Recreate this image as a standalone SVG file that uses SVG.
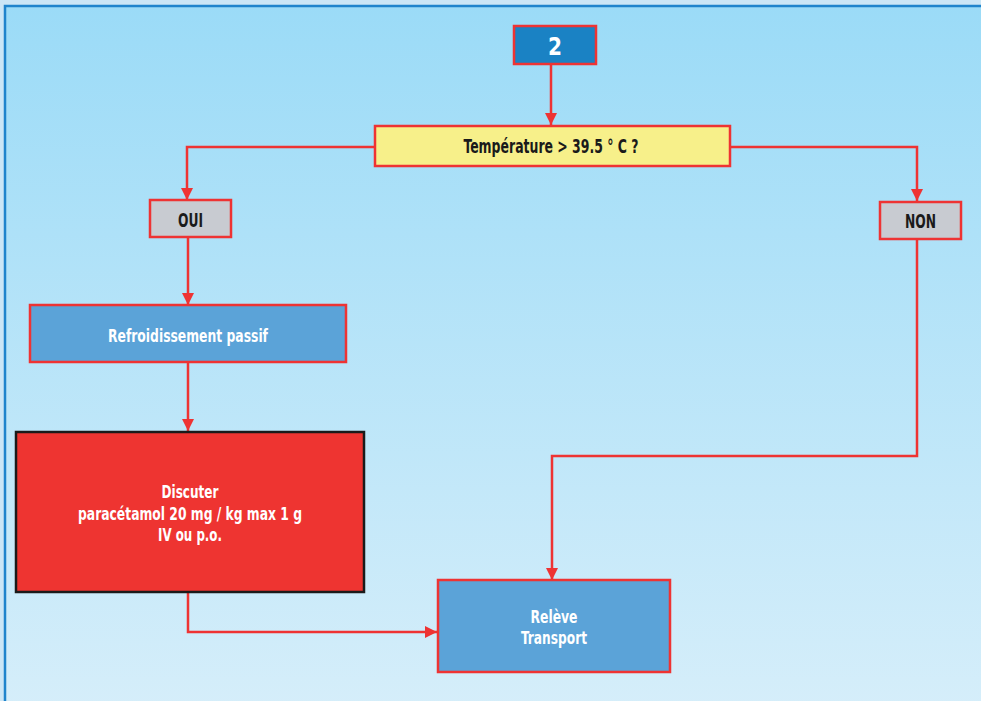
<svg xmlns="http://www.w3.org/2000/svg" width="981" height="701" viewBox="0 0 981 701">
<defs>
<linearGradient id="bg" x1="0" y1="0" x2="0" y2="1">
<stop offset="0" stop-color="#9bdbf7"/>
<stop offset="1" stop-color="#d6eefa"/>
</linearGradient>
<marker id="ah" markerWidth="12" markerHeight="12" viewBox="0 0 12 12" refX="12" refY="6" orient="auto" markerUnits="userSpaceOnUse">
<path d="M0,0 L12,6 L0,12 Z" fill="#ee3333"/>
</marker>
<style>
.conn{fill:none;stroke:#ee3333;stroke-width:2.5}
.box{stroke:#ee3333;stroke-width:2.5}
.t{font-family:"DejaVu Sans Condensed","Liberation Sans",sans-serif;font-weight:bold;text-anchor:middle}
.dk{fill:#1a1a1a}
.wh{fill:#ffffff}
</style>
</defs>
<rect x="0" y="0" width="981" height="701" fill="#cbe6f6"/>
<rect x="5" y="6" width="990" height="710" fill="url(#bg)" stroke="#1f84cc" stroke-width="2.5"/>
<g id="connectors">
<path class="conn" d="M551,64 V125" marker-end="url(#ah)"/>
<path class="conn" d="M375,147 H187 V200" marker-end="url(#ah)"/>
<path class="conn" d="M730,147 H917 V201" marker-end="url(#ah)"/>
<path class="conn" d="M188,238 V305" marker-end="url(#ah)"/>
<path class="conn" d="M188,362 V431" marker-end="url(#ah)"/>
<path class="conn" d="M188,592 V632 H437" marker-end="url(#ah)"/>
<path class="conn" d="M917,240 V456 H552 V580" marker-end="url(#ah)"/>
</g>
<g id="n2">
<rect class="box" x="514" y="26" width="82" height="38" fill="#1a82c4"/>
<text class="t wh" x="555" y="55" font-size="24" textLength="14" lengthAdjust="spacingAndGlyphs">2</text>
</g>
<g id="temperature">
<rect class="box" x="375" y="126" width="355" height="40" fill="#f7f08a"/>
<text class="t dk" x="551" y="153" font-size="19" textLength="175" lengthAdjust="spacingAndGlyphs">Température &gt; 39.5 ° C ?</text>
</g>
<g id="oui">
<rect class="box" x="150" y="200" width="81" height="37" fill="#c8cbd1"/>
<text class="t dk" x="190.5" y="227" font-size="19" textLength="25" lengthAdjust="spacingAndGlyphs">OUI</text>
</g>
<g id="non">
<rect class="box" x="880" y="202" width="81" height="37" fill="#c8cbd1"/>
<text class="t dk" x="920.5" y="228" font-size="19" textLength="31" lengthAdjust="spacingAndGlyphs">NON</text>
</g>
<g id="refroidissement">
<rect class="box" x="30" y="305" width="316" height="57" fill="#5ba3d8"/>
<text class="t wh" x="188" y="342" font-size="18" textLength="160" lengthAdjust="spacingAndGlyphs">Refroidissement passif</text>
</g>
<g id="discuter">
<rect x="16" y="432" width="348" height="160" fill="#ee3431" stroke="#1a1a1a" stroke-width="2.5"/>
<text class="t wh" x="190" y="498" font-size="18" textLength="57" lengthAdjust="spacingAndGlyphs">Discuter</text>
<text class="t wh" x="190" y="520" font-size="18" textLength="224" lengthAdjust="spacingAndGlyphs">paracétamol 20 mg / kg max 1 g</text>
<text class="t wh" x="190" y="541" font-size="18" textLength="64" lengthAdjust="spacingAndGlyphs">IV ou p.o.</text>
</g>
<g id="releve">
<rect class="box" x="438" y="580" width="232" height="92" fill="#5ba3d8"/>
<text class="t wh" x="554" y="623" font-size="18" textLength="47" lengthAdjust="spacingAndGlyphs">Relève</text>
<text class="t wh" x="554" y="644" font-size="18" textLength="66" lengthAdjust="spacingAndGlyphs">Transport</text>
</g>
</svg>
